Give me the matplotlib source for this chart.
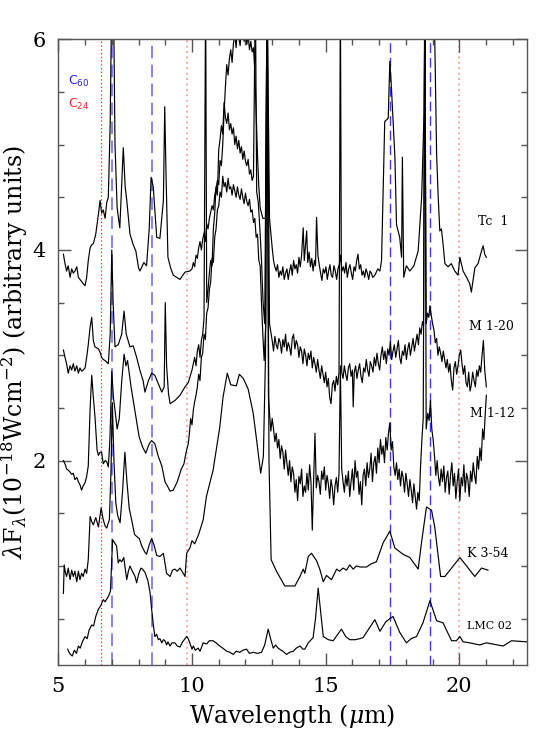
#!/usr/bin/env python3
'''Mid-IR spectra of C60 planetary nebulae (offset for clarity)'''
import numpy as np
import matplotlib
matplotlib.use('Agg')
import matplotlib.pyplot as plt
from matplotlib.ticker import MultipleLocator

plt.rcParams['font.family'] = ['DejaVu Serif']
plt.rcParams['mathtext.fontset'] = 'dejavuserif'

# (wavelength um, offset flux)
lmc02 = [(5.35, 0.21), (5.42, 0.17), (5.52, 0.145), (5.6, 0.2), (5.68, 0.17), (5.75, 0.24),
         (5.82, 0.22), (5.9, 0.28), (6.0, 0.33), (6.08, 0.31), (6.15, 0.39), (6.25, 0.44),
         (6.32, 0.43), (6.4, 0.52), (6.5, 0.59), (6.58, 0.62), (6.68, 0.68), (6.75, 0.66),
         (6.87, 0.71), (6.95, 0.76), (7.03, 1.25), (7.1, 1.22), (7.18, 1.19), (7.24, 1.03),
         (7.3, 1.06), (7.37, 1.04), (7.45, 1.08), (7.49, 1.0), (7.56, 0.87), (7.62, 0.95),
         (7.68, 1.0), (7.75, 0.96), (7.87, 0.90), (7.93, 0.84), (8.0, 0.92), (8.09, 0.98),
         (8.15, 0.97), (8.24, 0.94), (8.35, 0.86), (8.43, 0.75), (8.49, 0.59), (8.55, 0.45),
         (8.61, 0.33), (8.68, 0.35), (8.74, 0.30), (8.8, 0.31), (8.87, 0.27), (8.93, 0.30),
         (8.99, 0.29), (9.05, 0.25), (9.1, 0.28), (9.18, 0.24), (9.25, 0.27), (9.36, 0.27),
         (9.45, 0.24), (9.55, 0.23), (9.65, 0.28), (9.8, 0.33), (9.86, 0.31), (9.92, 0.27),
         (10.0, 0.21), (10.05, 0.24), (10.12, 0.2), (10.23, 0.22), (10.3, 0.19), (10.42, 0.27),
         (10.55, 0.26), (10.65, 0.29), (10.79, 0.29), (10.9, 0.27), (11.04, 0.24), (11.15, 0.22),
         (11.30, 0.19), (11.42, 0.18), (11.54, 0.16), (11.65, 0.19), (11.79, 0.18), (11.9, 0.2),
         (12.04, 0.21), (12.15, 0.17), (12.29, 0.18), (12.45, 0.17), (12.6, 0.18), (12.72, 0.25),
         (12.85, 0.40), (12.95, 0.30), (13.04, 0.22), (13.13, 0.25), (13.22, 0.22), (13.4, 0.19),
         (13.54, 0.16), (13.65, 0.18), (13.79, 0.19), (13.9, 0.22), (14.04, 0.24), (14.15, 0.21),
         (14.22, 0.21), (14.35, 0.27), (14.53, 0.32), (14.62, 0.5), (14.72, 0.79), (14.82, 0.55),
         (14.91, 0.33), (15.1, 0.30), (15.28, 0.29), (15.45, 0.35), (15.59, 0.40), (15.75, 0.33),
         (15.90, 0.30), (16.1, 0.30), (16.28, 0.31), (16.4, 0.32), (16.53, 0.37), (16.84, 0.49),
         (17.03, 0.38), (17.25, 0.47), (17.4, 0.50), (17.52, 0.52), (17.77, 0.37), (18.02, 0.27),
         (18.2, 0.31), (18.40, 0.33), (18.64, 0.46), (18.90, 0.67), (19.15, 0.48), (19.39, 0.46),
         (19.71, 0.29), (19.89, 0.29), (20.02, 0.33), (20.14, 0.28), (20.39, 0.27), (20.76, 0.25),
         (21.01, 0.27), (21.64, 0.24), (21.95, 0.29), (22.51, 0.28)]

k354 = [(5.19, 0.74), (5.22, 1.01), (5.27, 0.93), (5.31, 0.90), (5.37, 0.98), (5.44, 0.87),
        (5.50, 0.96), (5.56, 0.90), (5.62, 0.95), (5.69, 0.85), (5.75, 0.95), (5.81, 0.87),
        (5.87, 0.93), (5.93, 0.90), (6.0, 0.97), (6.06, 0.93), (6.12, 1.06), (6.19, 1.47),
        (6.25, 1.42), (6.31, 1.39), (6.40, 1.46), (6.50, 1.37), (6.60, 1.55), (6.68, 1.44),
        (6.75, 1.38), (6.81, 1.36), (6.91, 1.44), (6.97, 1.9), (7.02, 2.55), (7.08, 2.0),
        (7.15, 1.6), (7.22, 1.48), (7.31, 1.41), (7.40, 1.7), (7.49, 2.08), (7.56, 1.82),
        (7.65, 1.55), (7.74, 1.44), (7.85, 1.3), (7.93, 1.28), (8.03, 1.26), (8.12, 1.19),
        (8.24, 1.13), (8.30, 1.11), (8.40, 1.2), (8.49, 1.26), (8.58, 1.2), (8.68, 1.10),
        (8.80, 1.09), (8.93, 1.12), (9.05, 0.93), (9.18, 0.90), (9.27, 0.96), (9.36, 0.97),
        (9.45, 0.95), (9.55, 0.98), (9.65, 0.94), (9.74, 0.90), (9.80, 1.12), (9.92, 1.17),
        (10.0, 1.24), (10.1, 1.21), (10.25, 1.3), (10.42, 1.44), (10.54, 1.66), (10.79, 1.91),
        (11.04, 2.32), (11.16, 2.60), (11.32, 2.83), (11.45, 2.72), (11.66, 2.71), (11.77, 2.82),
        (11.92, 2.78), (12.1, 2.68), (12.29, 2.45), (12.42, 2.19), (12.57, 1.88), (12.67, 2.04),
        (12.75, 3.0), (12.81, 6.5), (12.88, 2.0), (12.96, 1.06), (13.16, 0.95), (13.47, 0.81),
        (13.85, 0.81), (14.04, 0.90), (14.16, 0.97), (14.22, 0.93), (14.35, 1.09), (14.47, 1.12),
        (14.66, 1.05), (14.78, 0.97), (14.91, 0.85), (15.03, 0.91), (15.22, 0.87), (15.41, 0.97),
        (15.52, 0.95), (15.65, 0.98), (15.78, 0.96), (15.90, 1.01), (16.03, 0.97), (16.15, 1.0),
        (16.28, 0.99), (16.53, 0.99), (16.70, 1.02), (16.90, 1.04), (17.15, 1.22), (17.40, 1.33),
        (17.59, 1.17), (17.90, 1.11), (18.15, 1.08), (18.46, 0.97), (18.59, 1.23), (18.77, 1.56),
        (18.96, 1.53), (19.08, 1.37), (19.30, 0.90), (19.46, 0.90), (20.02, 1.08), (20.27, 1.0),
        (20.58, 0.90), (20.83, 0.98), (21.07, 0.96)]

m112 = [(5.19, 2.0), (5.25, 1.97), (5.31, 1.92), (5.37, 1.91), (5.44, 1.89), (5.50, 1.87),
        (5.56, 1.88), (5.62, 1.82), (5.69, 1.84), (5.75, 1.80), (5.81, 1.77), (5.87, 1.72),
        (5.93, 1.76), (6.0, 1.79), (6.06, 1.85), (6.12, 1.95), (6.19, 2.5), (6.25, 2.81),
        (6.31, 2.6), (6.37, 2.42), (6.45, 2.10), (6.5, 2.05), (6.56, 2.08), (6.62, 2.08),
        (6.68, 1.97), (6.75, 2.0), (6.81, 1.99), (6.87, 1.94), (6.93, 2.2), (7.0, 2.85),
        (7.06, 2.6), (7.12, 2.48), (7.2, 2.3), (7.28, 2.4), (7.37, 2.75), (7.46, 3.01),
        (7.53, 2.9), (7.59, 2.95), (7.72, 2.70), (7.9, 2.42), (8.02, 2.23), (8.15, 2.13),
        (8.27, 2.07), (8.4, 2.16), (8.49, 2.19), (8.61, 2.16), (8.74, 2.04), (8.87, 1.95),
        (8.99, 1.80), (9.1, 1.75), (9.18, 1.71), (9.3, 1.72), (9.45, 1.80), (9.6, 1.92),
        (9.7, 1.97), (9.78, 2.08), (9.86, 2.16), (9.90, 2.25), (9.95, 2.4), (10.00, 2.34),
        (10.05, 2.48), (10.10, 2.56), (10.15, 2.62), (10.20, 2.7), (10.25, 2.82), (10.30, 2.76),
        (10.35, 2.98), (10.40, 3.02), (10.45, 3.2), (10.50, 3.15), (10.55, 3.4), (10.60, 3.45),
        (10.65, 3.62), (10.70, 3.7), (10.75, 3.92), (10.80, 3.88), (10.85, 4.12), (10.90, 4.2),
        (10.95, 4.38), (11.00, 4.42), (11.05, 4.55), (11.10, 4.5), (11.15, 4.7), (11.20, 4.6),
        (11.25, 4.64), (11.30, 4.55), (11.35, 4.68), (11.40, 4.58), (11.45, 4.6), (11.50, 4.52),
        (11.55, 4.62), (11.60, 4.56), (11.65, 4.5), (11.70, 4.6), (11.75, 4.52), (11.80, 4.48),
        (11.85, 4.58), (11.90, 4.5), (11.95, 4.44), (12.00, 4.54), (12.05, 4.46), (12.10, 4.42),
        (12.15, 4.48), (12.20, 4.36), (12.25, 4.38), (12.30, 4.26), (12.35, 4.3), (12.40, 4.12),
        (12.45, 4.15), (12.50, 3.9), (12.55, 3.85), (12.60, 3.5), (12.65, 3.2), (12.70, 2.95),
        (12.76, 3.3), (12.80, 6.5), (12.86, 2.6), (12.90, 2.45), (12.95, 2.28), (13.00, 2.40),
        (13.05, 2.30), (13.10, 2.18), (13.15, 2.26), (13.20, 2.12), (13.25, 2.20), (13.30, 2.02),
        (13.35, 2.14), (13.40, 2.08), (13.45, 1.92), (13.50, 2.10), (13.55, 1.98), (13.60, 1.86),
        (13.65, 2.0), (13.70, 1.80), (13.75, 1.94), (13.80, 1.88), (13.85, 1.70), (13.90, 1.82),
        (13.95, 1.62), (14.00, 1.85), (14.05, 1.78), (14.10, 1.92), (14.15, 1.66), (14.20, 1.76),
        (14.25, 1.70), (14.30, 1.88), (14.35, 1.72), (14.40, 1.96), (14.45, 1.80), (14.50, 1.34),
        (14.55, 1.82), (14.60, 2.26), (14.65, 1.74), (14.70, 1.86), (14.75, 1.80), (14.80, 1.68),
        (14.85, 1.90), (14.90, 1.82), (14.95, 1.94), (15.00, 1.72), (15.05, 1.86), (15.10, 1.78),
        (15.15, 1.64), (15.20, 1.82), (15.25, 1.74), (15.30, 1.58), (15.35, 1.76), (15.40, 1.84),
        (15.45, 1.70), (15.50, 1.88), (15.55, 2.9), (15.60, 1.92), (15.65, 1.80), (15.70, 1.70),
        (15.75, 1.86), (15.80, 1.76), (15.85, 1.90), (15.90, 1.66), (15.95, 1.80), (16.00, 1.92),
        (16.05, 1.72), (16.10, 2.0), (16.15, 1.84), (16.20, 1.90), (16.25, 1.68), (16.30, 1.80),
        (16.35, 1.58), (16.40, 1.86), (16.45, 1.92), (16.50, 1.76), (16.55, 1.98), (16.60, 1.84),
        (16.65, 1.92), (16.70, 2.07), (16.75, 1.80), (16.80, 1.98), (16.85, 2.04), (16.90, 1.88),
        (16.95, 2.12), (17.00, 1.98), (17.05, 2.20), (17.10, 2.06), (17.15, 2.14), (17.20, 1.98),
        (17.25, 2.22), (17.30, 2.10), (17.35, 2.26), (17.40, 2.36), (17.45, 2.10), (17.50, 2.18),
        (17.55, 1.94), (17.60, 1.86), (17.65, 1.98), (17.70, 1.82), (17.75, 1.92), (17.80, 1.76),
        (17.85, 1.90), (17.90, 1.84), (17.95, 1.70), (18.00, 1.88), (18.05, 1.78), (18.10, 1.66),
        (18.15, 1.82), (18.20, 1.72), (18.25, 1.60), (18.30, 1.78), (18.35, 1.66), (18.40, 1.54),
        (18.45, 1.70), (18.50, 1.62), (18.55, 1.95), (18.60, 2.2), (18.65, 2.4), (18.71, 6.5),
        (18.76, 2.3), (18.82, 2.45), (18.87, 2.38), (18.92, 2.57), (18.97, 2.3), (19.02, 2.2),
        (19.07, 2.05), (19.12, 1.86), (19.17, 2.0), (19.22, 1.84), (19.27, 1.76), (19.32, 1.92),
        (19.37, 1.80), (19.42, 1.95), (19.47, 1.70), (19.52, 1.84), (19.57, 1.90), (19.62, 1.68),
        (19.67, 1.86), (19.72, 1.98), (19.77, 1.76), (19.82, 1.88), (19.87, 1.64), (19.92, 1.80),
        (19.97, 1.92), (20.02, 1.62), (20.07, 1.84), (20.12, 1.76), (20.17, 1.96), (20.22, 1.70),
        (20.27, 1.88), (20.32, 1.82), (20.37, 1.66), (20.42, 1.90), (20.47, 1.80), (20.52, 1.98),
        (20.57, 1.86), (20.62, 1.78), (20.67, 2.04), (20.72, 1.92), (20.77, 2.12), (20.82, 2.0),
        (20.87, 2.3), (20.92, 2.2), (20.97, 2.45), (21.01, 2.62)]

m120 = [(5.19, 3.05), (5.25, 2.98), (5.31, 2.92), (5.37, 2.83), (5.44, 2.9), (5.50, 2.86),
        (5.56, 2.92), (5.62, 2.85), (5.69, 2.90), (5.75, 2.83), (5.81, 2.88), (5.87, 2.85),
        (5.93, 2.86), (6.0, 2.88), (6.06, 2.98), (6.12, 3.1), (6.19, 3.27), (6.25, 3.36),
        (6.31, 3.14), (6.37, 3.08), (6.50, 3.06), (6.56, 3.03), (6.62, 2.98), (6.68, 2.96),
        (6.75, 2.95), (6.87, 2.92), (6.94, 3.2), (7.0, 4.0), (7.05, 3.5), (7.12, 3.08),
        (7.24, 3.10), (7.37, 3.20), (7.46, 3.42), (7.54, 3.2), (7.68, 3.08), (7.8, 3.09),
        (7.93, 2.98), (8.05, 2.86), (8.17, 2.76), (8.24, 2.65), (8.37, 2.76), (8.49, 2.83),
        (8.61, 2.81), (8.74, 2.73), (8.87, 2.65), (8.96, 2.7), (9.0, 3.5), (9.05, 2.9),
        (9.12, 2.64), (9.18, 2.54), (9.36, 2.57), (9.55, 2.62), (9.74, 2.70), (9.86, 2.74),
        (10.00, 2.86), (10.05, 2.92), (10.10, 2.98), (10.15, 2.9), (10.20, 3.04), (10.25, 3.1),
        (10.30, 2.98), (10.35, 3.14), (10.40, 3.2), (10.45, 3.35), (10.51, 6.5), (10.55, 3.5),
        (10.60, 3.62), (10.65, 3.78), (10.70, 3.9), (10.75, 3.85), (10.80, 4.2), (10.85, 4.35),
        (10.90, 4.6), (10.95, 4.52), (11.00, 4.95), (11.05, 5.05), (11.10, 5.18), (11.15, 5.1),
        (11.20, 5.4), (11.25, 5.26), (11.30, 5.2), (11.35, 5.3), (11.40, 5.14), (11.45, 5.2),
        (11.50, 5.1), (11.55, 5.16), (11.60, 5.0), (11.65, 5.08), (11.70, 4.96), (11.75, 5.04),
        (11.80, 4.92), (11.85, 4.98), (11.90, 4.86), (11.95, 4.94), (12.00, 4.84), (12.05, 4.8),
        (12.10, 4.86), (12.15, 4.72), (12.20, 4.76), (12.25, 4.66), (12.30, 4.7), (12.37, 6.5),
        (12.42, 4.55), (12.48, 4.45), (12.54, 4.2), (12.60, 3.9), (12.66, 3.5), (12.72, 3.3),
        (12.81, 6.5), (12.90, 3.3), (13.00, 3.14), (13.05, 3.04), (13.10, 3.18), (13.15, 3.10),
        (13.20, 3.06), (13.25, 3.16), (13.30, 3.12), (13.35, 3.02), (13.40, 3.15), (13.45, 3.08),
        (13.50, 3.2), (13.55, 3.04), (13.60, 3.12), (13.65, 3.08), (13.70, 3.0), (13.75, 3.16),
        (13.80, 3.2), (13.85, 3.06), (13.90, 3.14), (13.95, 3.1), (14.00, 2.98), (14.05, 3.08),
        (14.10, 3.04), (14.15, 2.92), (14.20, 3.06), (14.25, 3.0), (14.30, 2.9), (14.35, 3.02),
        (14.40, 2.96), (14.45, 3.04), (14.50, 2.88), (14.55, 2.98), (14.60, 2.92), (14.65, 2.84),
        (14.70, 2.96), (14.75, 2.86), (14.80, 2.78), (14.85, 2.9), (14.90, 2.82), (14.95, 2.74),
        (15.00, 2.84), (15.05, 2.7), (15.10, 2.78), (15.15, 2.6), (15.20, 2.54), (15.25, 2.72),
        (15.30, 2.76), (15.35, 2.66), (15.40, 2.8), (15.45, 2.72), (15.50, 2.84), (15.55, 6.5),
        (15.60, 2.84), (15.65, 2.78), (15.70, 2.9), (15.75, 2.82), (15.80, 2.76), (15.85, 2.88),
        (15.90, 2.92), (15.95, 2.8), (16.00, 2.86), (16.03, 2.51), (16.07, 2.84), (16.12, 2.9),
        (16.17, 2.78), (16.22, 2.86), (16.27, 2.92), (16.32, 2.8), (16.37, 2.74), (16.42, 2.88),
        (16.47, 2.84), (16.52, 2.96), (16.57, 2.86), (16.62, 2.8), (16.67, 2.94), (16.72, 2.9),
        (16.77, 2.84), (16.82, 2.98), (16.87, 2.9), (16.92, 3.02), (16.97, 2.92), (17.02, 2.86),
        (17.07, 3.0), (17.12, 3.08), (17.17, 2.96), (17.22, 3.04), (17.27, 2.92), (17.32, 3.06),
        (17.37, 3.0), (17.42, 3.13), (17.47, 2.96), (17.52, 3.04), (17.57, 3.1), (17.62, 2.98),
        (17.67, 3.06), (17.72, 3.14), (17.77, 2.98), (17.82, 2.92), (17.87, 3.04), (17.92, 3.0),
        (17.97, 3.1), (18.02, 2.96), (18.07, 3.06), (18.12, 3.12), (18.17, 3.0), (18.22, 3.08),
        (18.27, 3.16), (18.32, 3.04), (18.37, 3.12), (18.42, 3.2), (18.47, 3.1), (18.52, 3.26),
        (18.57, 3.2), (18.62, 3.32), (18.66, 3.28), (18.71, 6.5), (18.76, 3.3), (18.81, 3.4),
        (18.86, 3.36), (18.90, 3.47), (18.95, 3.38), (19.00, 3.3), (19.05, 3.24), (19.10, 3.12),
        (19.15, 3.16), (19.20, 3.0), (19.25, 3.08), (19.30, 3.02), (19.35, 2.94), (19.40, 3.04),
        (19.45, 2.96), (19.50, 2.88), (19.55, 2.96), (19.60, 2.84), (19.65, 2.92), (19.70, 2.76),
        (19.75, 2.67), (19.80, 2.88), (19.85, 2.94), (19.90, 2.82), (19.95, 2.9), (20.00, 3.0),
        (20.05, 3.05), (20.10, 2.92), (20.15, 2.82), (20.20, 2.9), (20.25, 2.74), (20.30, 2.7),
        (20.35, 2.84), (20.40, 2.66), (20.45, 2.72), (20.50, 2.84), (20.55, 2.76), (20.60, 2.7),
        (20.65, 2.86), (20.70, 2.8), (20.75, 2.9), (20.80, 2.84), (20.85, 3.0), (20.90, 3.14),
        (20.95, 2.86), (21.01, 2.70)]

tc1 = [(5.19, 3.96), (5.25, 3.87), (5.31, 3.80), (5.37, 3.85), (5.44, 3.74), (5.5, 3.82),
       (5.56, 3.78), (5.62, 3.80), (5.69, 3.84), (5.75, 3.74), (5.81, 3.72), (5.87, 3.7),
       (5.93, 3.68), (6.0, 3.66), (6.06, 3.74), (6.12, 3.90), (6.19, 4.02), (6.25, 4.05),
       (6.31, 4.06), (6.4, 4.15), (6.5, 4.34), (6.56, 4.47), (6.62, 4.35), (6.68, 4.38),
       (6.75, 4.3), (6.81, 4.45), (6.87, 4.5), (6.94, 5.2), (7.0, 6.5), (7.06, 6.5),
       (7.12, 5.0), (7.2, 4.4), (7.3, 4.21), (7.43, 4.97), (7.5, 4.6), (7.56, 4.47),
       (7.68, 4.15), (7.8, 4.05), (7.9, 3.99), (8.0, 3.83), (8.05, 3.80), (8.2, 3.88),
       (8.3, 3.85), (8.4, 4.2), (8.47, 4.69), (8.55, 4.6), (8.68, 4.12), (8.8, 4.11),
       (8.93, 4.47), (8.98, 5.36), (9.03, 4.7), (9.1, 3.93), (9.2, 3.83), (9.3, 3.76),
       (9.55, 3.72), (9.74, 3.79), (9.92, 3.80), (10.00, 3.82), (10.05, 3.88), (10.10, 3.84),
       (10.15, 3.95), (10.20, 3.92), (10.25, 4.02), (10.30, 4.08), (10.35, 4.0), (10.40, 4.1),
       (10.45, 4.16), (10.50, 4.08), (10.55, 4.25), (10.60, 4.2), (10.65, 4.3), (10.70, 4.36),
       (10.75, 4.42), (10.80, 4.38), (10.85, 4.52), (10.90, 4.58), (10.95, 4.66), (11.00, 4.62),
       (11.05, 4.85), (11.10, 4.8), (11.15, 5.0), (11.20, 5.3), (11.25, 5.55), (11.30, 5.76),
       (11.35, 5.66), (11.40, 5.82), (11.45, 5.9), (11.50, 5.78), (11.55, 5.96), (11.60, 6.05),
       (11.65, 5.92), (11.70, 6.1), (11.75, 6.02), (11.80, 5.94), (11.85, 6.08), (11.90, 6.12),
       (11.95, 5.98), (12.00, 6.06), (12.05, 5.95), (12.10, 6.04), (12.15, 5.9), (12.20, 5.98),
       (12.25, 5.88), (12.30, 5.92), (12.35, 5.7), (12.40, 5.3), (12.45, 4.9), (12.50, 4.6),
       (12.55, 4.4), (12.65, 4.3), (12.75, 4.3), (12.81, 6.5), (12.90, 4.3), (13.00, 4.02),
       (13.05, 3.9), (13.10, 3.84), (13.15, 3.8), (13.20, 3.86), (13.25, 3.74), (13.30, 3.8),
       (13.35, 3.76), (13.40, 3.84), (13.45, 3.72), (13.50, 3.78), (13.55, 3.82), (13.60, 3.72),
       (13.65, 3.8), (13.70, 3.86), (13.75, 3.76), (13.80, 3.9), (13.85, 3.82), (13.90, 3.86),
       (13.95, 3.78), (14.00, 3.93), (14.05, 3.84), (14.10, 3.95), (14.16, 4.21), (14.20, 3.9),
       (14.25, 4.05), (14.29, 4.18), (14.33, 3.88), (14.38, 3.98), (14.43, 3.84), (14.48, 3.92),
       (14.53, 3.8), (14.58, 3.9), (14.62, 3.85), (14.66, 4.31), (14.71, 3.95), (14.76, 3.86),
       (14.81, 3.78), (14.86, 3.71), (14.91, 3.82), (14.96, 3.78), (15.01, 3.84), (15.06, 3.72),
       (15.11, 3.8), (15.16, 3.86), (15.21, 3.76), (15.26, 3.74), (15.31, 3.85), (15.36, 3.8),
       (15.41, 3.72), (15.46, 3.82), (15.51, 3.86), (15.56, 3.95), (15.61, 3.8), (15.66, 3.84),
       (15.71, 3.78), (15.76, 3.88), (15.81, 3.74), (15.86, 3.82), (15.91, 3.86), (15.96, 3.78),
       (16.01, 3.72), (16.06, 3.84), (16.11, 3.8), (16.16, 3.9), (16.21, 3.96), (16.26, 3.82),
       (16.31, 3.86), (16.36, 3.76), (16.41, 3.8), (16.46, 3.74), (16.51, 3.82), (16.56, 3.78),
       (16.61, 3.72), (16.66, 3.8), (16.71, 3.78), (16.76, 3.74), (16.84, 3.76), (16.95, 3.82),
       (17.03, 3.80), (17.09, 3.90), (17.21, 5.22), (17.34, 5.25), (17.40, 5.79), (17.46, 5.54),
       (17.59, 4.88), (17.65, 4.24), (17.77, 4.12), (17.84, 3.93), (17.87, 4.88), (17.92, 3.74),
       (18.02, 3.85), (18.15, 3.80), (18.3, 3.85), (18.46, 3.99), (18.59, 4.50), (18.68, 5.3),
       (18.71, 6.5), (18.8, 6.3), (18.9, 6.5), (19.05, 6.5), (19.15, 4.91), (19.21, 4.50),
       (19.27, 4.18), (19.33, 4.2), (19.39, 4.06), (19.46, 3.87), (19.58, 3.84), (19.7, 3.87),
       (19.83, 3.80), (19.95, 3.76), (20.02, 3.93), (20.14, 3.80), (20.27, 3.74), (20.39, 3.68),
       (20.45, 3.60), (20.58, 3.83), (20.7, 3.87), (20.83, 3.99), (20.89, 4.04), (20.95, 3.96),
       (21.01, 3.93)]

spectra = [lmc02, k354, m112, m120, tc1]
names = ['LMC 02', 'K 3-54', 'M 1-12', 'M 1-20', 'Tc  1']
name_pos = [(20.3, 0.43), (20.3, 1.12), (20.4, 2.45), (20.35, 3.27), (20.7, 4.27)]

c60_lines = [7.0, 8.5, 17.4, 18.9]
c24_lines = [6.6, 9.8, 20.0]

fig = plt.figure(figsize=(5.56, 7.41), dpi=100)
ax = fig.add_axes([0.1049, 0.1026, 0.8424, 0.8444])

for wl in c60_lines:
    col = '#7a7aff' if wl < 10 else '#3a3aff'
    ax.axvline(wl, color=col, lw=1.3 if wl < 10 else 1.0, ls=(0, (7, 3.5)), zorder=1)
for wl in c24_lines:
    col = '#ff2020' if wl < 7 else '#ff9a9a'
    ax.axvline(wl, color=col, lw=0.9 if wl < 7 else 1.3, ls=(0, (1, 2)), zorder=1)

for spec in spectra:
    wave, flux = np.array(spec).T
    ax.plot(wave, flux, color='black', lw=0.85, zorder=2)

for name, (x, y) in zip(names, name_pos):
    ax.text(x, y, name, fontsize=9 if name != 'LMC 02' else 8, ha='left', va='center')

ax.text(5.35, 5.6, r'$\mathsf{C_{60}}$', color='#2020ff', fontsize=9, va='center')
ax.text(5.35, 5.38, r'$\mathsf{C_{24}}$', color='#ff2020', fontsize=9, va='center')

ax.set_xlim(5, 22.52)
ax.set_ylim(0.06, 6)
ax.xaxis.set_major_locator(MultipleLocator(5))
ax.xaxis.set_minor_locator(MultipleLocator(1))
ax.yaxis.set_major_locator(MultipleLocator(2))
ax.yaxis.set_minor_locator(MultipleLocator(0.5))
ax.tick_params(which='both', direction='in', top=True, right=True, color='#555555')
ax.tick_params(which='major', length=9, width=1.0, labelsize=15, pad=9)
ax.tick_params(which='minor', length=4.5, width=1.0)
for sp in ax.spines.values():
    sp.set_color('#555555')
    sp.set_linewidth(1.0)

ax.set_xlabel(r'Wavelength ($\mu$m)', fontsize=17, labelpad=4)
ax.set_ylabel(r'$\lambda$F$_\lambda$(10$^{-18}$Wcm$^{-2}$) (arbitrary units)', fontsize=17)
ax.yaxis.set_label_coords(-0.060, 0.5)

fig.savefig('out.png', dpi=100)
